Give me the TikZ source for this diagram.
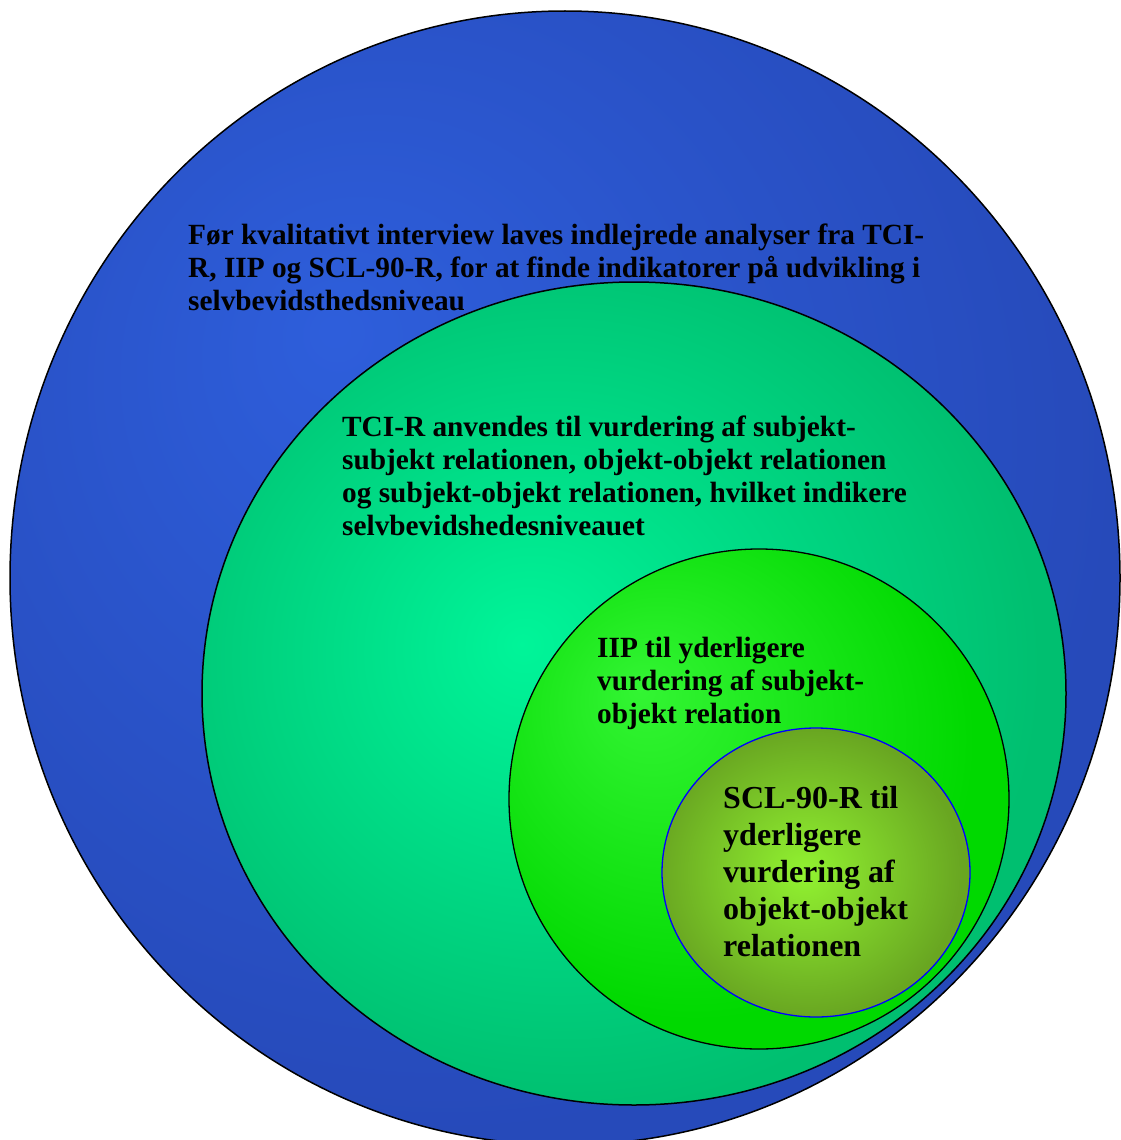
\documentclass[tikz,border=0pt]{standalone}
\usepackage{fontspec}
\setmainfont{Liberation Serif}

% radial shadings, light spot a little off centre
\pgfdeclareradialshading{ydreblaa}{\pgfpoint{-10.5bp}{11bp}}{rgb(0bp)=(0.18,0.37,0.86);rgb(30bp)=(0.15,0.29,0.73);rgb(60bp)=(0.15,0.29,0.73)}
\pgfdeclareradialshading{tcigroen}{\pgfpoint{-6.5bp}{3bp}}{rgb(0bp)=(0.0,0.96,0.60);rgb(27bp)=(0.0,0.75,0.44);rgb(60bp)=(0.0,0.75,0.44)}
\pgfdeclareradialshading{iipgroen}{\pgfpoint{-12bp}{11bp}}{rgb(0bp)=(0.20,0.96,0.20);rgb(28bp)=(0.0,0.85,0.0);rgb(60bp)=(0.0,0.85,0.0)}
\pgfdeclareradialshading{sclgroen}{\pgfpoint{-2bp}{0bp}}{rgb(0bp)=(0.57,0.95,0.19);rgb(25bp)=(0.41,0.65,0.13);rgb(60bp)=(0.41,0.65,0.13)}

\begin{document}
\begin{tikzpicture}[x=1pt,y=-1pt]
% base anchor sits on the last line
\tikzset{tekst/.style={anchor=base west,align=left,inner sep=0pt,
  font=\bfseries\fontsize{29.3}{32.8}\selectfont}}

\useasboundingbox (0,0) rectangle (1121,1140);
\clip (0,0) rectangle (1121,1140);

\shadedraw[shading=ydreblaa,draw=black,line width=1.5pt] (565,578) ellipse [x radius=555,y radius=567];
\shadedraw[shading=tcigroen,draw=black,line width=1.5pt] (634,693.5) ellipse [x radius=432,y radius=411.5];
\shadedraw[shading=iipgroen,draw=black,line width=1.3pt] (759,799) ellipse [x radius=250,y radius=250];
\shadedraw[shading=sclgroen,draw=blue,line width=1.3pt] (816,872.5) ellipse [x radius=154,y radius=144.5];

\node[tekst] (foer) at (188,310) {Før kvalitativt interview laves indlejrede analyser fra TCI-\\R, IIP og SCL-90-R, for at finde indikatorer på udvikling i\\selvbevidsthedsniveau};
\node[tekst] (tcir) at (342,535) {TCI-R anvendes til vurdering af subjekt-\\subjekt relationen, objekt-objekt relationen\\og subjekt-objekt relationen, hvilket indikere\\selvbevidshedesniveauet};
\node[tekst] (iip) at (597,723) {IIP til yderligere\\vurdering af subjekt-\\objekt relation};
\node[tekst,font=\bfseries\fontsize{32}{37}\selectfont] (scl) at (723,956) {SCL-90-R til\\yderligere\\vurdering af\\objekt-objekt\\relationen};
\end{tikzpicture}
\end{document}
